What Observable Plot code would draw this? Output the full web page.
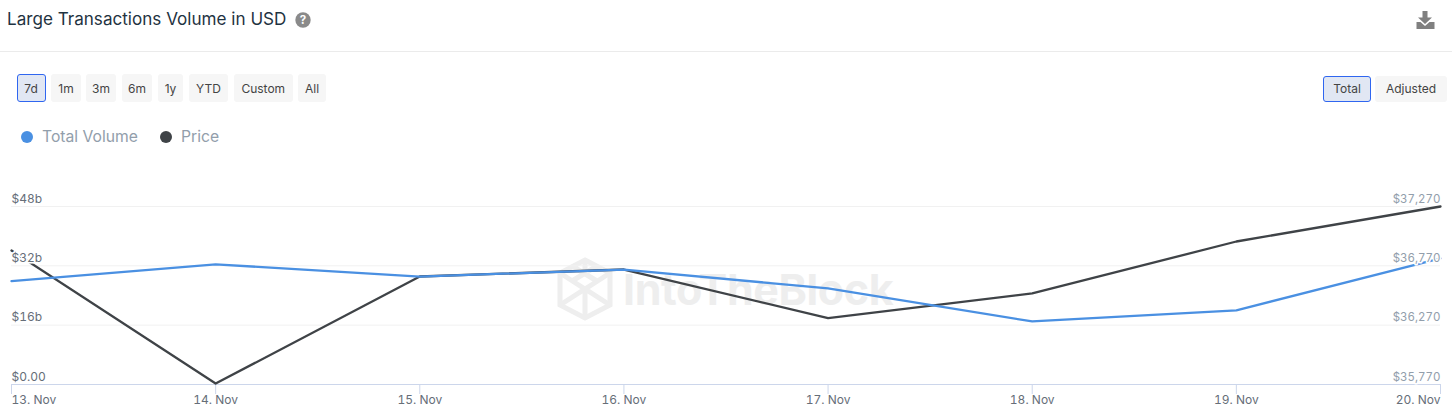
<!DOCTYPE html>
<html>
<head>
<meta charset="utf-8">
<script src="https://cdn.jsdelivr.net/npm/d3@7"></script>
<script src="https://cdn.jsdelivr.net/npm/@observablehq/plot@0.6"></script>
<style>
html,body{margin:0;padding:0;background:#fff;overflow:hidden;font-family:Inter,sans-serif;}
#page{position:relative;width:1452px;height:413px;overflow:hidden;}
#head{position:absolute;left:0;top:0;width:1452px;height:51px;border-bottom:1px solid #ebebeb;}
#title{position:absolute;left:7px;top:9px;font-size:17.1px;font-weight:400;line-height:20px;color:#1f3342;white-space:nowrap;}
#help{position:absolute;left:295px;top:12px;}
#dl{position:absolute;left:1415px;top:10px;}
.btn{position:absolute;box-sizing:border-box;top:74px;height:28px;line-height:30px;text-align:center;font-size:12px;color:#444;background:#f6f6f6;border-radius:3px;}
.btn.on{background:#e1e7f3;border:1px solid #2f66f0;line-height:28px;}
.leg{position:absolute;top:126px;font-size:15.7px;line-height:21px;color:#929eab;white-space:nowrap;}
.dot{position:absolute;top:131px;width:12px;height:12px;border-radius:50%;}
#wm{position:absolute;left:557px;top:257px;width:340px;height:64px;}
#wmt{position:absolute;left:66px;top:2px;font-size:43px;line-height:60px;font-weight:700;color:#eeeeee;letter-spacing:-.4px;white-space:nowrap;}
#chart{position:absolute;left:0;top:150px;}
</style>
</head>
<body>
<div id="page">
  <div id="head">
    <div id="title">Large Transactions Volume in USD</div>
    <svg id="help" width="16" height="16" viewBox="0 0 16 16"><circle cx="8" cy="8" r="7.7" fill="#8a8a8a"/><text x="8" y="12.2" text-anchor="middle" font-size="11.5" font-weight="700" fill="#fff" font-family="Inter">?</text></svg>
    <svg id="dl" width="21" height="20" viewBox="0 0 21 20"><path d="M7.5 1h5v6.5H17L10 14 3 7.500h4.500z" fill="#808080"/><path d="M1.500 12h4l4.500 4 4.500-4h5v7h-18z" fill="#808080"/></svg>
  </div>
  <div id="buttons"></div>
  <div id="legend"></div>
  <div id="wm">
    <svg width="60" height="64" viewBox="0 0 60 64" fill="none" stroke="#eeeeee" stroke-width="5"><path d="M28 3 53 16V48L28 61 3 48V16Z"/><path d="M3 16 28 32 53 16M28 32V61M3 48 28 32 53 48M28 3V16M15 9 40 24M40 9 15 24"/></svg>
    <div id="wmt">IntoTheBlock</div>
  </div>
  <div id="chart"></div>
</div>
<script>
const dates = ["2023-11-13","2023-11-14","2023-11-15","2023-11-16","2023-11-17","2023-11-18","2023-11-19","2023-11-20"];
const volume = [27.9, 32.4, 29.1, 31.0, 25.9, 17.0, 20.0, 34.0];
const price = [36899, 35778, 36680, 36739, 36330, 36537, 36975, 37270];
const volumeTicks = [0, 16, 32, 48];
const volumeLabels = ["$0.00", "$16b", "$32b", "$48b"];
const priceLabels = ["$35,770", "$36,270", "$36,770", "$37,270"];
const ranges = [["7d",16.5,29,true],["1m",51,30],["3m",86,30],["6m",122,30],["1y",158,25],["YTD",189,39],["Custom",234,58.5],["All",298,28]];
const modes = [["Total",1323,48,true],["Adjusted",1375,72]];
const seriesNames = ["Total Volume", "Price"];
const seriesColors = ["#4a90e2", "#3f4347"];

const page = document.getElementById("buttons");
for (const [t,l,w,on] of ranges.concat(modes)) {
  const b = document.createElement("div");
  b.className = "btn" + (on ? " on" : "");
  b.style.left = l + "px"; b.style.width = w + "px"; b.textContent = t;
  if (l > 1000) { b.style.top = "76px"; b.style.height = "26px"; b.style.lineHeight = on ? "24px" : "26px"; }
  page.appendChild(b);
}
const leg = document.getElementById("legend");
[[20.5,42],[160,181]].forEach(([dx,tx],i) => {
  const d = document.createElement("div"); d.className = "dot"; d.style.left = dx + "px"; d.style.background = seriesColors[i];
  const t = document.createElement("div"); t.className = "leg"; t.style.left = tx + "px"; t.textContent = seriesNames[i];
  leg.append(d,t);
});

const parse = d3.utcParse("%Y-%m-%d");
const xs = dates.map(parse);
const rows = xs.map((d,i) => ({date:d, volume:volume[i], price:price[i]}));
const priceToY = d3.scaleLinear([35770, 37270], [0, 48]);
const fmt = d3.utcFormat("%-d. %b");
const tickFont = {fontSize:12, fontFamily:"Inter, sans-serif"};
const xAxis = (ticks, textAnchor) => Plot.axisX({ticks, tickFormat:fmt, tickSize:10, tickPadding:1, stroke:"#ccd6eb", fill:"#666e78", textAnchor, ...tickFont, label:null});
const halo = {textStroke:"white", textStrokeWidth:3, paintOrder:"stroke"};

const plot = Plot.plot({
  width:1452, height:263,
  marginTop:56, marginBottom:29, marginLeft:11, marginRight:12,
  style:{background:"transparent", fontFamily:"Inter, sans-serif", overflow:"visible"},
  x:{type:"utc", domain:[xs[0], xs[xs.length-1]]},
  y:{domain:[0,48]},
  marks:[
    Plot.ruleY(volumeTicks.slice(1), {stroke:"#f1f1f1", strokeWidth:1}),
    Plot.ruleY([0], {stroke:"#ccd6eb", strokeWidth:1}),
    xAxis(xs.slice(1,-1), "middle"),
    xAxis(xs.slice(0,1), "start"),
    xAxis(xs.slice(-1), "end"),
    Plot.lineY(rows, {x:"date", y:d=>priceToY(d.price), stroke:seriesColors[1], strokeWidth:2.3}),
    Plot.lineY(rows, {x:"date", y:"volume", stroke:seriesColors[0], strokeWidth:2.3}),
    Plot.axisY({ticks:volumeTicks, anchor:"left", tickFormat:d=>volumeLabels[volumeTicks.indexOf(d)], tickSize:0, tickPadding:0, textAnchor:"start", dy:-7.6, fill:"#666e78", ...halo, ...tickFont, label:null}),
    Plot.axisY({ticks:volumeTicks, anchor:"right", tickFormat:d=>priceLabels[volumeTicks.indexOf(d)], tickSize:0, tickPadding:0, textAnchor:"end", dy:-7.6, fill:"#929eab", ...halo, ...tickFont, fontSize:11.5, label:null})
  ]
});
document.getElementById("chart").appendChild(plot);
</script>
</body>
</html>
